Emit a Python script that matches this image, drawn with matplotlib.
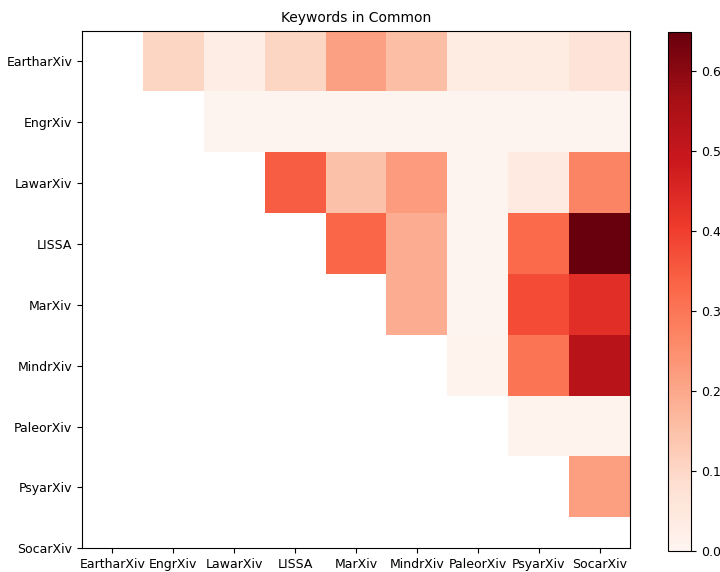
import numpy as np
import matplotlib
matplotlib.use("Agg")
import matplotlib.pyplot as plt

servers = ["EartharXiv", "EngrXiv", "LawarXiv", "LISSA", "MarXiv",
           "MindrXiv", "PaleorXiv", "PsyarXiv", "SocarXiv"]

# Share of keywords in common for each pair (upper triangle, row vs later columns)
eartharxiv = [0.105, 0.030, 0.105, 0.213, 0.153, 0.035, 0.035, 0.065]
engrxiv = [0.003, 0.003, 0.003, 0.003, 0.003, 0.003, 0.003]
lawarxiv = [0.345, 0.149, 0.225, 0.005, 0.042, 0.270]
lissa = [0.328, 0.190, 0.005, 0.322, 0.649]
marxiv = [0.190, 0.005, 0.377, 0.435]
mindrxiv = [0.008, 0.300, 0.527]
paleorxiv = [0.010, 0.010]
psyarxiv = [0.220]

rows = [eartharxiv, engrxiv, lawarxiv, lissa, marxiv, mindrxiv, paleorxiv, psyarxiv]

n = len(servers)
matrix = np.full((n, n), np.nan)
for i, vals in enumerate(rows):
    matrix[i, i + 1:] = vals
masked = np.ma.masked_invalid(matrix)

fig = plt.figure(figsize=(7.2, 5.72), dpi=100)
ax = fig.add_axes([0.1139, 0.0402, 0.7611, 0.9073])
cmap = plt.get_cmap("Reds").copy()
cmap.set_bad("white")
im = ax.imshow(masked, cmap=cmap, vmin=0, vmax=0.649, aspect="equal",
               interpolation="nearest")
ax.set_xticks(range(n))
ax.set_xticklabels(servers)
ax.set_yticks(range(n))
ax.set_yticklabels(servers)
ax.tick_params(labelsize=9)
ax.set_xlim(-0.5, n - 0.5)
ax.set_ylim(n - 1, -0.5)
ax.set_title("Keywords in Common", fontsize=10)

cax = fig.add_axes([0.928, 0.0367, 0.032, 0.907])
cb = fig.colorbar(im, cax=cax)
cb.set_ticks([0.0, 0.1, 0.2, 0.3, 0.4, 0.5, 0.6])
cb.ax.tick_params(labelsize=9)

fig.savefig("out.png", dpi=100)
